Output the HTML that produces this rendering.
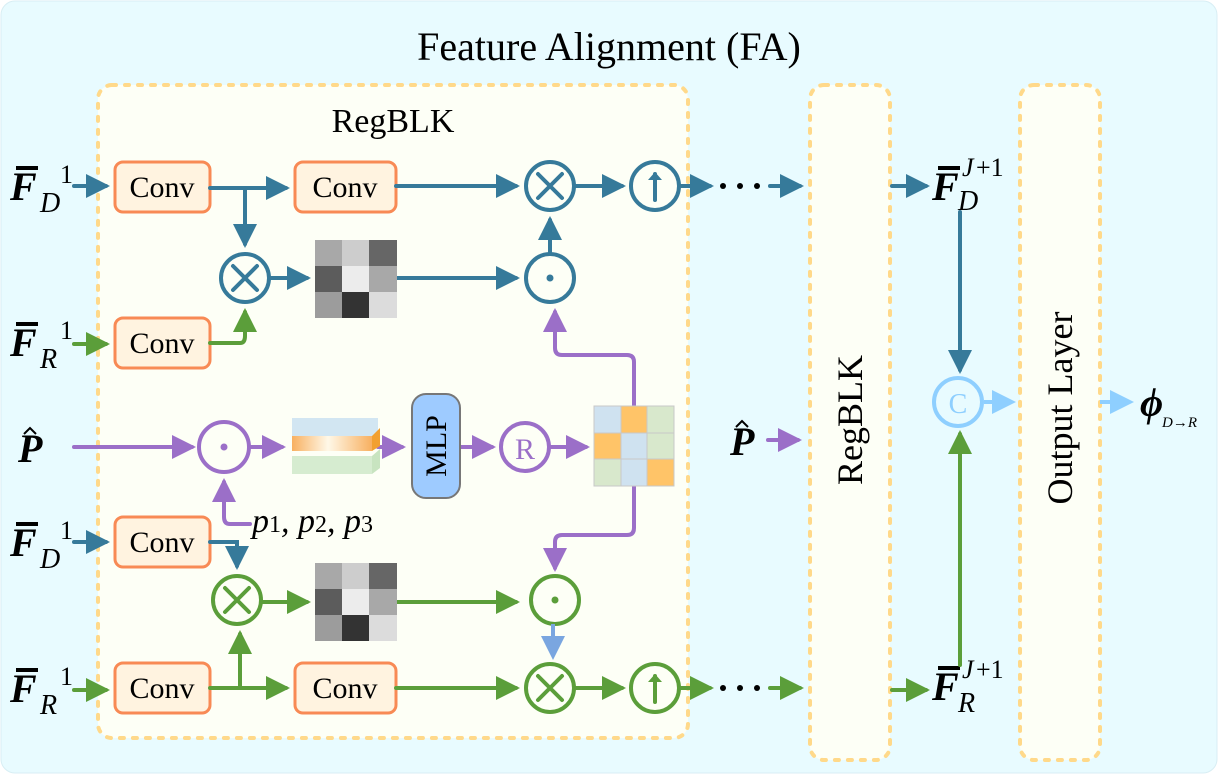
<!DOCTYPE html><html><head><style>body{margin:0}svg{display:block}</style></head><body>
<svg width="1218" height="774" viewBox="0 0 1218 774" xmlns="http://www.w3.org/2000/svg" font-family="Liberation Serif, serif">
<defs>
<marker id="ab" markerWidth="6" markerHeight="6" refX="5" refY="3" orient="auto" markerUnits="strokeWidth"><path d="M0,0L6,3L0,6z" fill="#367a9a"/></marker>
<marker id="ag" markerWidth="6" markerHeight="6" refX="5" refY="3" orient="auto" markerUnits="strokeWidth"><path d="M0,0L6,3L0,6z" fill="#5b9e3a"/></marker>
<marker id="ap" markerWidth="6" markerHeight="6" refX="5" refY="3" orient="auto" markerUnits="strokeWidth"><path d="M0,0L6,3L0,6z" fill="#9b6fc8"/></marker>
<marker id="al" markerWidth="6" markerHeight="6" refX="5" refY="3" orient="auto" markerUnits="strokeWidth"><path d="M0,0L6,3L0,6z" fill="#8ecfff"/></marker>
<marker id="am" markerWidth="6" markerHeight="6" refX="5" refY="3" orient="auto" markerUnits="strokeWidth"><path d="M0,0L6,3L0,6z" fill="#7aa6e0"/></marker>
<linearGradient id="cg" x1="0" x2="1"><stop offset="0" stop-color="#f8b060"/><stop offset=".45" stop-color="#fff8e8"/><stop offset="1" stop-color="#f8b060"/></linearGradient>
</defs>
<rect x="1" y="1" width="1216" height="772" rx="14" fill="#e8fbff" stroke="#d8eef4"/>
<text x="609" y="60" font-size="40" text-anchor="middle">Feature Alignment (FA)</text>
<g fill="#fdfff6" stroke="#ffd98a" stroke-width="4" stroke-dasharray="4,9" stroke-linecap="round">
<rect x="98" y="85" width="590" height="653" rx="14"/>
<rect x="810" y="85" width="80" height="675" rx="14"/>
<rect x="1020" y="85" width="80" height="675" rx="14"/>
</g>
<text x="393" y="132" font-size="34" text-anchor="middle">RegBLK</text>
<text transform="translate(862,420) rotate(-90)" font-size="36" text-anchor="middle">RegBLK</text>
<text transform="translate(1072,408) rotate(-90)" font-size="36" text-anchor="middle">Output Layer</text>
<g fill="#fff3e0" stroke="#f88a55" stroke-width="3">
<rect x="115" y="162" width="95" height="50" rx="8"/><rect x="295" y="162" width="101" height="50" rx="8"/>
<rect x="115" y="318" width="95" height="50" rx="8"/><rect x="115" y="517" width="95" height="50" rx="8"/>
<rect x="115" y="663" width="95" height="50" rx="8"/><rect x="295" y="663" width="101" height="50" rx="8"/>
</g>
<g font-size="30" text-anchor="middle">
<text x="162" y="197">Conv</text><text x="345" y="197">Conv</text><text x="162" y="353">Conv</text>
<text x="162" y="552">Conv</text><text x="162" y="698">Conv</text><text x="345" y="698">Conv</text>
</g>
<g font-size="40" font-weight="bold" font-style="italic">
<text x="10" y="200">F</text><text x="10" y="356">F</text><text x="10" y="556">F</text><text x="10" y="702">F</text>
<text x="18" y="462">P</text><text x="730" y="455">P</text><text x="932" y="200">F</text><text x="932" y="700">F</text>
</g>
<g stroke="#000" stroke-width="4"><path d="M16 168H38M16 324H38M16 524H38M16 670H38M938 168H960M938 668H960"/></g>
<g fill="none" stroke="#000" stroke-width="2"><path d="M24 434l6-6 6 6M736 427l6-6 6 6"/></g>
<g font-size="28" font-style="italic"><text x="40" y="212">D</text><text x="40" y="368">R</text><text x="40" y="568">D</text><text x="40" y="714">R</text>
<text x="958" y="210">D</text><text x="958" y="712">R</text>
<text x="962" y="176" font-size="26">J</text><text x="962" y="678" font-size="26">J</text></g>
<g font-size="26"><text x="60" y="183">1</text><text x="60" y="339">1</text><text x="60" y="539">1</text><text x="60" y="685">1</text>
<text x="976" y="176">+1</text><text x="976" y="678">+1</text></g>
<text x="1140" y="416" font-size="40" font-weight="bold" font-style="italic">ϕ</text>
<text x="1162" y="427" font-size="15" font-style="italic">D→R</text>
<text x="252" y="532" font-size="34" font-style="italic">p<tspan font-size="24" font-style="normal">1</tspan>, p<tspan font-size="24" font-style="normal">2</tspan>, p<tspan font-size="24" font-style="normal">3</tspan></text>
<g fill="none" stroke="#367a9a" stroke-width="4" stroke-linecap="round">
<path d="M74 186H106" marker-end="url(#ab)"/><path d="M210 188H286" marker-end="url(#ab)"/>
<path d="M245 188V244" marker-end="url(#ab)"/><path d="M396 186H516" marker-end="url(#ab)"/>
<path d="M574 186H622" marker-end="url(#ab)"/><path d="M679 186H710" marker-end="url(#ab)"/>
<path d="M770 186H800" marker-end="url(#ab)"/><path d="M269 278H307" marker-end="url(#ab)"/>
<path d="M397 278H516" marker-end="url(#ab)"/><path d="M550 254V220" marker-end="url(#ab)"/>
<path d="M74 542H106" marker-end="url(#ab)"/><path d="M210 542H237V566" marker-end="url(#ab)"/>
<path d="M892 186H926" marker-end="url(#ab)"/><path d="M960 212V370" marker-end="url(#ab)"/>
<circle cx="550" cy="186" r="24"/><circle cx="655" cy="186" r="24"/><circle cx="245" cy="278" r="24"/><circle cx="550" cy="278" r="24"/>
<path d="M233 266l24 24M257 266l-24 24M538 174l24 24M562 174l-24 24M655 200V174" />
</g>
<path d="M648 180l7-8 7 8" fill="#367a9a"/>
<circle cx="550" cy="278" r="3.5" fill="#367a9a"/>
<g fill="none" stroke="#5b9e3a" stroke-width="4" stroke-linecap="round">
<path d="M74 344H106" marker-end="url(#ag)"/><path d="M210 343H240Q245 343 245 336V312" marker-end="url(#ag)"/>
<path d="M74 690H106" marker-end="url(#ag)"/><path d="M210 688H240V634" marker-end="url(#ag)"/>
<path d="M240 688H286" marker-end="url(#ag)"/><path d="M396 688H516" marker-end="url(#ag)"/>
<path d="M574 688H622" marker-end="url(#ag)"/><path d="M679 688H710" marker-end="url(#ag)"/>
<path d="M770 688H800" marker-end="url(#ag)"/><path d="M261 602H307" marker-end="url(#ag)"/>
<path d="M397 602H516" marker-end="url(#ag)"/><path d="M892 690H926" marker-end="url(#ag)"/>
<path d="M960 665V434" marker-end="url(#ag)"/>
<circle cx="237" cy="600" r="24"/><circle cx="555" cy="600" r="24"/><circle cx="550" cy="688" r="24"/><circle cx="655" cy="688" r="24"/>
<path d="M225 588l24 24M249 588l-24 24M538 676l24 24M562 676l-24 24M655 702V676"/>
</g>
<path d="M648 682l7-8 7 8" fill="#5b9e3a"/><circle cx="555" cy="600" r="3.5" fill="#5b9e3a"/>
<path d="M553 624V656" stroke="#7aa6e0" stroke-width="4" marker-end="url(#am)"/>
<g fill="#000"><circle cx="723" cy="186" r="3"/><circle cx="740" cy="186" r="3"/><circle cx="757" cy="186" r="3"/>
<circle cx="723" cy="688" r="3"/><circle cx="740" cy="688" r="3"/><circle cx="757" cy="688" r="3"/></g>
<g fill="none" stroke="#9b6fc8" stroke-width="4" stroke-linecap="round">
<path d="M74 447H192" marker-end="url(#ap)"/><path d="M250 447H282" marker-end="url(#ap)"/>
<path d="M378 447H402" marker-end="url(#ap)"/><path d="M460 447H492" marker-end="url(#ap)"/>
<path d="M550 447H586" marker-end="url(#ap)"/><path d="M250 524H230Q224 524 224 517V482" marker-end="url(#ap)"/>
<path d="M634 406V362Q634 355 627 355H562Q555 355 555 348V312" marker-end="url(#ap)"/>
<path d="M634 486V528Q634 535 627 535H562Q555 535 555 542V568" marker-end="url(#ap)"/>
<path d="M768 440H798" marker-end="url(#ap)"/>
<circle cx="224" cy="447" r="25"/><circle cx="525" cy="447" r="24"/>
</g>
<circle cx="224" cy="447" r="3.5" fill="#9b6fc8"/>
<text x="525" y="459" font-size="30" fill="#9b6fc8" text-anchor="middle">R</text>
<circle cx="958" cy="402" r="24" fill="none" stroke="#8ecfff" stroke-width="4"/>
<text x="958" y="413" font-size="28" fill="#8ecfff" text-anchor="middle">C</text>
<path d="M984 402H1012" stroke="#8ecfff" stroke-width="4" marker-end="url(#al)"/>
<path d="M1100 402H1130" stroke="#8ecfff" stroke-width="4" marker-end="url(#al)"/>
<rect x="412" y="394" width="48" height="104" rx="14" fill="#9ecbff" stroke="#777" stroke-width="2"/>
<text transform="translate(446,446) rotate(-90)" font-size="30" text-anchor="middle">MLP</text>
<rect x="292" y="418" width="86" height="18" fill="#d2e6f2"/><rect x="292" y="436" width="80" height="15" fill="url(#cg)"/>
<polygon points="372,436 380,428 380,446 372,451" fill="#f2a030"/>
<rect x="292" y="456" width="80" height="18" fill="#d6ecd0"/><polygon points="372,456 380,449 380,468 372,474" fill="#c8e4c0"/>
<g>
<rect x="315" y="240" width="27" height="26" fill="#a8a8a8"/><rect x="342" y="240" width="27" height="26" fill="#cdcdcd"/><rect x="369" y="240" width="28" height="26" fill="#666"/>
<rect x="315" y="266" width="27" height="26" fill="#5c5c5c"/><rect x="342" y="266" width="27" height="26" fill="#ececec"/><rect x="369" y="266" width="28" height="26" fill="#a8a8a8"/>
<rect x="315" y="292" width="27" height="26" fill="#9c9c9c"/><rect x="342" y="292" width="27" height="26" fill="#333"/><rect x="369" y="292" width="28" height="26" fill="#dcdcdc"/>
</g>
<g transform="translate(0,323)">
<rect x="315" y="240" width="27" height="26" fill="#a8a8a8"/><rect x="342" y="240" width="27" height="26" fill="#cdcdcd"/><rect x="369" y="240" width="28" height="26" fill="#666"/>
<rect x="315" y="266" width="27" height="26" fill="#5c5c5c"/><rect x="342" y="266" width="27" height="26" fill="#ececec"/><rect x="369" y="266" width="28" height="26" fill="#a8a8a8"/>
<rect x="315" y="292" width="27" height="26" fill="#9c9c9c"/><rect x="342" y="292" width="27" height="26" fill="#333"/><rect x="369" y="292" width="28" height="26" fill="#dcdcdc"/>
</g>
<g stroke="#c8c8c8" stroke-width="1">
<rect x="594" y="406" width="27" height="27" fill="#cfe2f0"/><rect x="621" y="406" width="26" height="27" fill="#ffc468"/><rect x="647" y="406" width="27" height="27" fill="#d8e8cc"/>
<rect x="594" y="433" width="27" height="26" fill="#ffc468"/><rect x="621" y="433" width="26" height="26" fill="#cfe2f0"/><rect x="647" y="433" width="27" height="26" fill="#d8e8cc"/>
<rect x="594" y="459" width="27" height="27" fill="#d8e8cc"/><rect x="621" y="459" width="26" height="27" fill="#cfe2f0"/><rect x="647" y="459" width="27" height="27" fill="#ffc468"/>
</g>
</svg>
</body></html>
